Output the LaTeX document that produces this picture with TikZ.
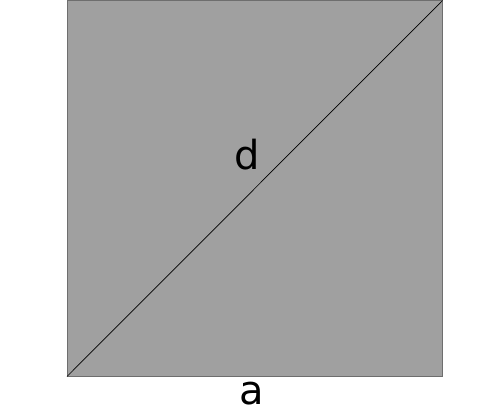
\documentclass[tikz,border=0pt]{standalone}
\usepackage{fontspec}
\setmainfont{DejaVu Sans}
\usepackage{tikz}
\usetikzlibrary{positioning}
\definecolor{sqgray}{RGB}{160,160,160}
\definecolor{sqedge}{RGB}{110,110,110}

\begin{document}
\begin{tikzpicture}[
  x=1pt, y=-1pt,
  square/.style={draw=sqedge,line width=1pt,fill=sqgray},
  diag/.style={draw=black,line width=0.7pt},
  lbl/.style={inner sep=0pt,font=\fontsize{40}{48}\selectfont}
]
  \useasboundingbox (0,0) rectangle (490,409);
  \coordinate (sw) at (67,376.5);
  \coordinate (ne) at (442.5,0.5);
  \path[square] (sw) rectangle (ne);
  \draw[diag] (sw) -- (ne);
  \node[lbl] (d) at (247,155) {d};
  \node[lbl] (a) at (252,393.5) {a};
\end{tikzpicture}
\end{document}
